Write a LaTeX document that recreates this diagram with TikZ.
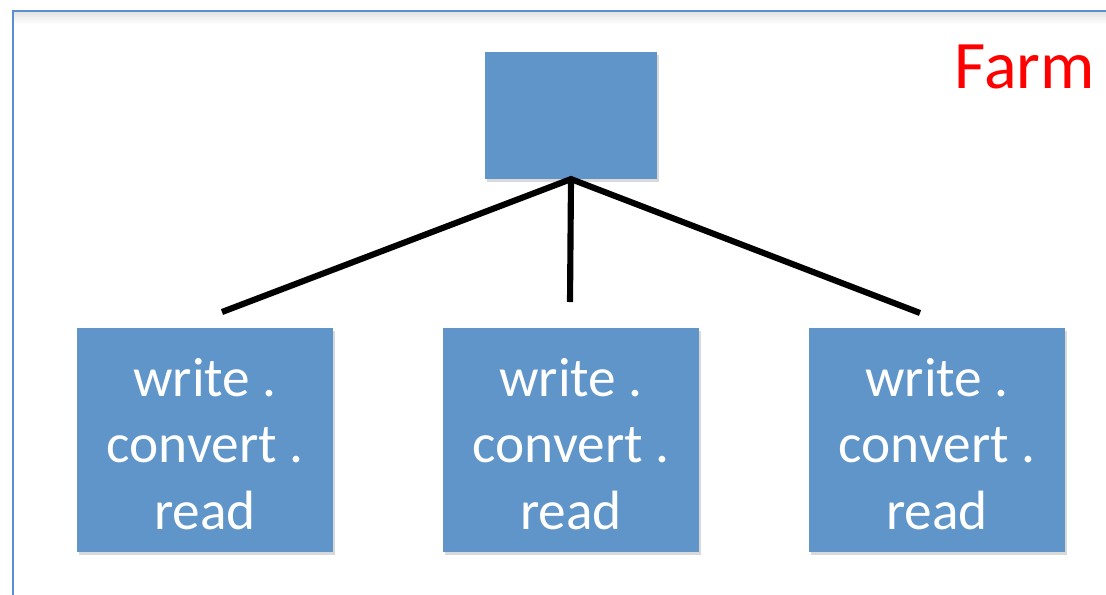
\documentclass[tikz,border=0pt]{standalone}
\usepackage{fontspec}
\setmainfont{Carlito}
\usetikzlibrary{shadows}

\definecolor{boxblue}{HTML}{6095C9}
\definecolor{framblue}{HTML}{5B8FCF}

\begin{document}
\begin{tikzpicture}[x=0.75pt,y=-0.75pt,
    box/.style={fill=boxblue, draw=none,
        drop shadow={shadow xshift=1.5pt, shadow yshift=-2pt, opacity=0.3}},
    worker/.style={box, minimum width=192pt, minimum height=168pt,
        label={[text=white, align=center, yshift=-3pt,
            font=\fontsize{41.5}{50}\selectfont]center:write .\\convert .\\read}},
    link/.style={line width=4.6pt, black}]

\useasboundingbox (0,0) rectangle (1106,594);

    % outer frame, soft shade under the top edge
    \shade[top color=black!11, bottom color=white] (14,12) rectangle (1106,24);
    \draw[framblue, line width=1.6pt] (13,600)--(13,11)--(1110,11);

    \node[box, minimum width=129pt, minimum height=95pt] (master) at (571,115.5) {};

    \node[worker] (w1) at (205,440) {};
    \node[worker] (w2) at (571,440) {};
    \node[worker] (w3) at (937,440) {};

    \coordinate (e1) at (222,312);
    \coordinate (e2) at (570,302);
    \coordinate (e3) at (920,313);

    \draw[link] (e1)--(master.south)--(e3);%fan out
    \draw[link] (master.south)--(e2);

    \node[red, anchor=base east, font=\fontsize{51}{60}\selectfont, inner sep=0pt] (farm) at (1095,88) {Farm};
\end{tikzpicture}
\end{document}
